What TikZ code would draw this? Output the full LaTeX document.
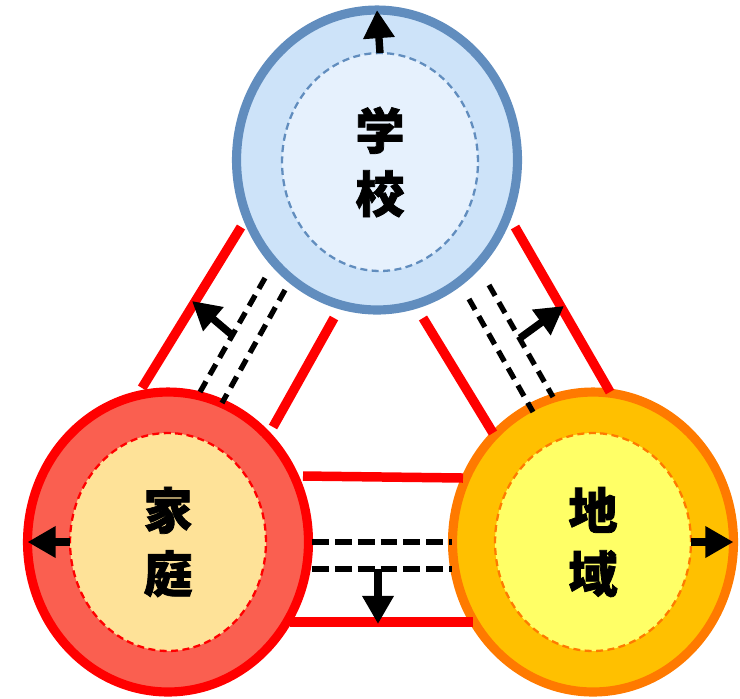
\documentclass[tikz,border=0pt]{standalone}
\usepackage{fontspec}
\newfontfamily\cjk{Noto Sans CJK JP}[BoldFeatures={FakeBold=1.5}]
\usetikzlibrary{shapes.geometric, arrows.meta}
\definecolor{schoolring}{HTML}{CDE3F9}
\definecolor{schoolline}{HTML}{618DBE}
\definecolor{schoolcore}{HTML}{E6F1FD}
\definecolor{familyring}{HTML}{FA5F50}
\definecolor{familycore}{HTML}{FEE298}
\definecolor{areacolor}{HTML}{FFC000}
\definecolor{arealine}{HTML}{FF7A00}
\definecolor{areacore}{HTML}{FFFF66}
\tikzset{
  ring/.style={ellipse, draw, line width=5.2pt, inner sep=0pt, outer sep=0pt,
    minimum width=5.62cm, minimum height=6.0cm}, % outer circle
  core/.style={ellipse, draw, line width=1.3pt, dash pattern=on 4pt off 2.5pt,
    inner sep=0pt, outer sep=0pt, minimum width=3.92cm, minimum height=4.36cm,
    align=center, font=\cjk\bfseries\fontsize{28}{36}\selectfont}, % inner circle
  bar/.style={draw=red, line width=5.4pt},
  tie/.style={black, line width=3pt, dash pattern=on 7pt off 4.3pt},
  longtie/.style={black, line width=3pt, dash pattern=on 9.6pt off 3.4pt},
  push/.style={-{Triangle[length=16pt,width=17pt]}, line width=4.2pt},
}
\begin{document}
\begin{tikzpicture}[x=0.02cm, y=-0.02cm]
  \useasboundingbox (0,0) rectangle (740,698);

  % circles
  \node[ring, draw=schoolline, fill=schoolring] (school) at (377,160) {};
  \node[core, draw=schoolline, fill=schoolcore] (schoolin) at (380,162) {学\\校};
  \node[ring, draw=red, fill=familyring] (family) at (168,542) {};
  \node[core, draw=red, fill=familycore] (familyin) at (168,542) {家\\庭};
  \node[ring, draw=arealine, fill=areacolor] (area) at (593,542) {};
  \node[core, draw=arealine, fill=areacore] (areain) at (593,542) {地\\域};

  \draw[push] (schoolin.north) -- (school.north);
  \draw[push] (familyin.west) -- (family.west);
  \draw[push] (areain.east) -- (area.east);

  % 学校 - 家庭
  \coordinate (fsOa) at (241,227);  \coordinate (fsOb) at (142,388);
  \coordinate (fsIa) at (334,318);  \coordinate (fsIb) at (273,427);
  \coordinate (fsDa) at (265,278);  \coordinate (fsDb) at (200,392);
  \coordinate (fsEa) at (285,290);  \coordinate (fsEb) at (222,403);
  \coordinate (fsFrom) at (232,335); \coordinate (fsTo) at (192,301);
  \draw[bar] (fsOa) -- (fsOb);
  \draw[bar] (fsIa) -- (fsIb);
  \draw[tie] (fsDa) -- (fsDb);
  \draw[tie] (fsEa) -- (fsEb);
  \draw[push] (fsFrom) -- (fsTo);

  % 学校 - 地域
  \coordinate (saOa) at (515,227);  \coordinate (saOb) at (610,392);
  \coordinate (saIa) at (423,318);  \coordinate (saIb) at (493,433);
  \coordinate (saDa) at (469,299);  \coordinate (saDb) at (533,412);
  \coordinate (saEa) at (489,285);  \coordinate (saEb) at (553,397);
  \coordinate (saFrom) at (520,338); \coordinate (saTo) at (564,306);
  \draw[bar] (saOa) -- (saOb);
  \draw[bar] (saIa) -- (saIb);
  \draw[tie] (saDa) -- (saDb);
  \draw[tie] (saEa) -- (saEb);
  \draw[push] (saFrom) -- (saTo);

  % 家庭 - 地域
  \coordinate (faOa) at (303,476);  \coordinate (faOb) at (463,478);
  \coordinate (faIa) at (290,622);  \coordinate (faIb) at (473,622);
  \coordinate (faDa) at (312,542);  \coordinate (faDb) at (452,542);
  \coordinate (faEa) at (312,569);  \coordinate (faEb) at (452,569);
  \coordinate (faFrom) at (378,569); \coordinate (faTo) at (378,624);
  \draw[bar] (faOa) -- (faOb);
  \draw[bar] (faIa) -- (faIb);
  \draw[longtie] (faDa) -- (faDb);
  \draw[longtie] (faEa) -- (faEb);
  \draw[push] (faFrom) -- (faTo);
\end{tikzpicture}
\end{document}
